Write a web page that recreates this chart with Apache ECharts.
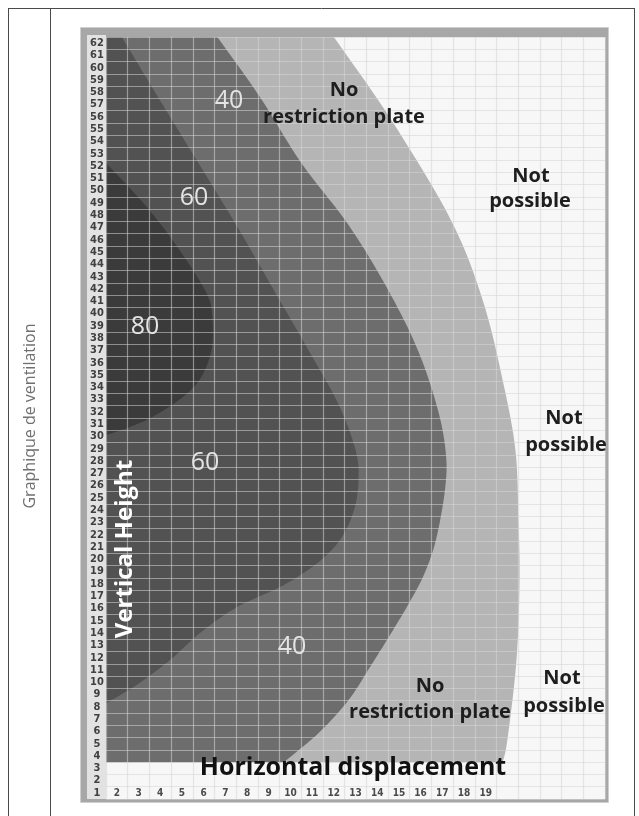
<!DOCTYPE html>
<html><head><meta charset="utf-8">
<script src="https://cdn.jsdelivr.net/npm/echarts@6/dist/echarts.min.js"></script>
<style>html,body{margin:0;padding:0;background:#fff}#c{width:639px;height:816px}</style>
</head><body><div id="c"></div>
<script>
// ---- tick labels ----
const rowLabels = ['1','2','3','4','5','6','7','8','9','10','11','12','13','14','15','16','17','18','19','20',
  '21','22','23','24','25','26','27','28','29','30','31','32','33','34','35','36','37','38','39','40',
  '41','42','43','44','45','46','47','48','49','50','51','52','53','54','55','56','57','58','59','60','61','62'];
const colLabels = ['2','3','4','5','6','7','8','9','10','11','12','13','14','15','16','17','18','19','','','','',''];

// ---- chart extents (column / row units) ----
const leftEdge = 1.5;     // left side of column 2
const rightEdge = 24.5;   // right side of column 24
const topEdge = 62.5;     // top of row 62
const bottomEdge = 0.5;   // bottom of row 1
const baseRow = 3.5;      // shaded zones stop above row 3

// ---- zone boundaries [column, row] ----
const boundaryNoPlate = [[12.0,62.5],[14.65,55.75],[17.4,47.6],[18.86,41.1],[19.78,34.6],[20.37,28.9],
  [20.51,23.2],[20.56,18.3],[20.42,11.8],[20.0,5.3],[19.78,3.5]];
const boundary40 = [[6.63,62.5],[8.6,57.6],[10.5,52.25],[12.68,47.2],[14.51,41.9],[15.88,37.0],[16.8,32.15],
  [17.17,28.5],[17.12,25.6],[16.71,21.6],[16.15,18.73],[15.42,16.29],[14.59,13.84],[13.67,11.24],[12.68,8.55],
  [11.3,5.87],[9.7,3.5]];
const boundary60 = [[2.23,62.5],[3.97,57.4],[5.81,52.1],[7.64,46.8],[9.24,41.9],[10.84,37.0],[12.22,32.6],
  [13.0,28.9],[13.14,26.5],[12.93,24.0],[12.28,21.57],[11.13,19.54],[9.52,17.75],[7.54,16.12],[5.83,14.0],
  [4.45,11.8],[2.84,9.69],[1.5,8.3]];
const boundary80 = [[1.5,52.25],[3.38,48.67],[4.89,45.17],[6.13,41.67],[6.4,39.7],[6.36,37.0],[5.81,34.6],
  [4.89,33.0],[3.65,31.6],[2.6,30.77],[1.5,30.1]];

const zoneNames = ['No restriction plate','40','60','80'];
const zoneColors = ['#b5b5b5','#6d6d6d','#525252','#3b3b3b'];
const zoneCurves = [boundaryNoPlate, boundary40, boundary60, boundary80];
const zoneFromTop = [true, true, true, false];
const zoneToBase = [true, true, false, false];

// smooth drawing of a boundary through its read points (Catmull-Rom, pixel space)
function spline(pts, steps) {
  const out = [];
  const n = pts.length;
  for (let i = 0; i < n - 1; i++) {
    const p0 = pts[Math.max(0, i - 1)], p1 = pts[i], p2 = pts[i + 1], p3 = pts[Math.min(n - 1, i + 2)];
    for (let s = 0; s < steps; s++) {
      const t = s / steps, t2 = t * t, t3 = t2 * t;
      out.push([0, 1].map(k => 0.5 * ((2 * p1[k]) + (-p0[k] + p2[k]) * t +
        (2 * p0[k] - 5 * p1[k] + 4 * p2[k] - p3[k]) * t2 + (-p0[k] + 3 * p1[k] - 3 * p2[k] + p3[k]) * t3)));
    }
  }
  out.push(pts[n - 1]);
  return out;
}

const chart = echarts.init(document.getElementById('c'), null, {renderer:'canvas'});
const G = {left:106, top:37, width:499, height:762};
const labelFont = '"Liberation Sans Narrow","DejaVu Sans Condensed",sans-serif';
const sans = '"Open Sans","Noto Sans",sans-serif';

function txt(x, y, s, size, weight, color, rot) {
  return {type:'text', x:x, y:y, rotation:rot||0, z:20, silent:true,
    style:{text:s, fill:color, font:weight+' '+size+'px '+sans, align:'center', verticalAlign:'middle'}};
}

chart.setOption({
  animation:false,
  grid:[Object.assign({}, G), Object.assign({}, G)],
  xAxis:[
    {type:'value', gridIndex:0, min:leftEdge, max:rightEdge, show:false},
    {type:'category', gridIndex:1, data:colLabels, boundaryGap:true, z:5,
      axisLine:{show:false}, axisTick:{show:false},
      axisLabel:{inside:true, interval:0, margin:6, verticalAlign:'middle', color:'#4a4a4a',
        fontFamily:labelFont, fontWeight:'bold', fontSize:10},
      splitLine:{show:true, interval:0, lineStyle:{color:'rgba(214,214,214,0.55)', width:1.2}}}
  ],
  yAxis:[
    {type:'value', gridIndex:0, min:bottomEdge, max:topEdge, show:false},
    {type:'category', gridIndex:1, data:rowLabels, boundaryGap:true, z:5,
      axisLine:{show:false}, axisTick:{show:false},
      axisLabel:{interval:0, margin:9, align:'center', color:'#404040',
        fontFamily:labelFont, fontWeight:'bold', fontSize:11},
      splitLine:{show:true, interval:0, lineStyle:{color:'rgba(214,214,214,0.55)', width:1.2}}}
  ],
  series:[{
    type:'custom', name:'zones', xAxisIndex:0, yAxisIndex:0, silent:true, z:2,
    data: zoneNames.map((n,i)=>i),
    renderItem:function(params, api){
      const i = params.dataIndex;
      const pts = [];
      if (zoneFromTop[i]) pts.push(api.coord([leftEdge, topEdge]));
      spline(zoneCurves[i].map(p => api.coord(p)), 10).forEach(p => pts.push(p));
      if (zoneToBase[i]) pts.push(api.coord([leftEdge, baseRow]));
      return {type:'polygon', shape:{points: pts}, style:{fill: zoneColors[i]}};
    }
  }],
  graphic:[
    // outer table lines
    {type:'line', z:0, silent:true, shape:{x1:8.5,y1:8,x2:8.5,y2:816}, style:{stroke:'#4a4a4a',lineWidth:1}},
    {type:'line', z:0, silent:true, shape:{x1:50.5,y1:8,x2:50.5,y2:816}, style:{stroke:'#4a4a4a',lineWidth:1}},
    {type:'line', z:0, silent:true, shape:{x1:634.5,y1:8,x2:634.5,y2:816}, style:{stroke:'#4a4a4a',lineWidth:1}},
    {type:'line', z:0, silent:true, shape:{x1:8,y1:8.5,x2:635,y2:8.5}, style:{stroke:'#4a4a4a',lineWidth:1}},
    txt(30, 416, 'Graphique de ventilation', 16, 'normal', '#707070', Math.PI/2),
    // chart panel frame
    {type:'rect', z:0, silent:true, shape:{x:80.5,y:27.5,width:528,height:775}, style:{fill:'#a7a7a7', stroke:'#cfcfcf', lineWidth:1}},
    {type:'rect', z:0, silent:true, shape:{x:87,y:35,width:19,height:764}, style:{fill:'#e2e2e2'}},
    {type:'rect', z:0, silent:true, shape:{x:106,y:37,width:499,height:762}, style:{fill:'#f7f7f7'}},
    // annotations
    txt(229, 101, '40', 25, 'normal', '#e4e4e4'),
    txt(194, 198, '60', 25, 'normal', '#e4e4e4'),
    txt(145, 327, '80', 25, 'normal', '#e4e4e4'),
    txt(205, 463, '60', 25, 'normal', '#e4e4e4'),
    txt(292, 647, '40', 25, 'normal', '#e4e4e4'),
    txt(344, 90, 'No', 20, 'bold', '#1e1e1e'),
    txt(344, 117, 'restriction plate', 20, 'bold', '#1e1e1e'),
    txt(531, 176, 'Not', 20, 'bold', '#1e1e1e'),
    txt(530, 201, 'possible', 20, 'bold', '#1e1e1e'),
    txt(564, 418, 'Not', 20, 'bold', '#1e1e1e'),
    txt(566, 445, 'possible', 20, 'bold', '#1e1e1e'),
    txt(562, 678, 'Not', 20, 'bold', '#1e1e1e'),
    txt(564, 706, 'possible', 20, 'bold', '#1e1e1e'),
    txt(430, 686, 'No', 20, 'bold', '#1e1e1e'),
    txt(430, 712, 'restriction plate', 20, 'bold', '#1e1e1e'),
    txt(353, 768, 'Horizontal displacement', 25, 'bold', '#111111'),
    txt(125, 549, 'Vertical Height', 24, 'bold', '#ffffff', Math.PI/2)
  ]
});
</script></body></html>
